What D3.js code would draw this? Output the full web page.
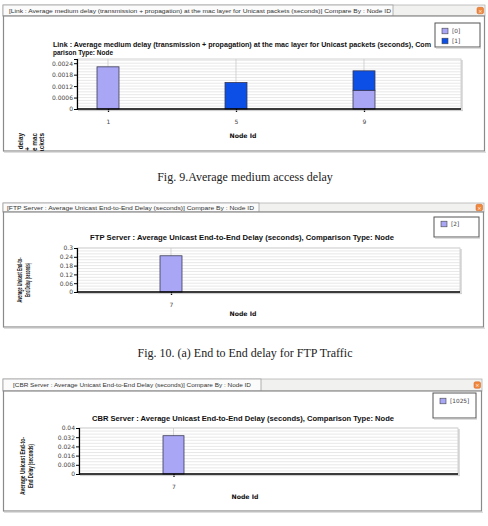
<!DOCTYPE html>
<html><head><meta charset="utf-8">
<script src="https://cdn.jsdelivr.net/npm/d3@7"></script>
<style>
html,body{margin:0;padding:0;background:#fff;}
svg{display:block;}
</style></head>
<body>
<svg id="c" width="488" height="526"></svg>
<script>
// ---------- DATA ----------
// Fig. 9 : average medium delay at MAC layer
const macNodes = ["1", "5", "9"];
const macSeries = ["[0]", "[1]"];
const macDelay0 = [0.00221, 0, 0.00098];
const macDelay1 = [0, 0.00139, 0.00102];
const macTicks = [0, 0.0006, 0.0012, 0.0018, 0.0024];
// Fig. 10 (a) : FTP end-to-end delay
const ftpNodes = ["7"];
const ftpSeries = ["[2]"];
const ftpDelay = [0.247];
const ftpTicks = [0, 0.06, 0.12, 0.18, 0.24, 0.3];
// Fig. 10 (b) : CBR end-to-end delay
const cbrNodes = ["7"];
const cbrSeries = ["[1025]"];
const cbrDelay = [0.0333];
const cbrTicks = [0, 0.008, 0.016, 0.024, 0.032, 0.04];

const captions = ["Fig. 9.Average medium access delay", "Fig. 10. (a) End to End delay for FTP Traffic"];

const seriesColors = ["#a9a6f6", "#0b4fe6"];
const UI = "'DejaVu Sans', Verdana, sans-serif";
const UIN = "'Liberation Sans', Arial, sans-serif";

const svg = d3.select("#c");
const defs = svg.append("defs");

function fmt(v) { return String(+v.toFixed(6)); }

function drawPanel(cfg, idx) {
  const f = cfg.frame;
  const g = svg.append("g");
  defs.append("clipPath").attr("id", "clip" + idx)
    .append("rect").attr("x", f.x0).attr("y", f.tabY1).attr("width", f.x1 - f.x0).attr("height", f.y1 - f.tabY1);

  // tab strip
  g.append("rect").attr("x", f.x0).attr("y", f.y0).attr("width", f.x1 - f.x0).attr("height", f.tabY1 - f.y0)
    .attr("fill", "#f1f1ef").attr("stroke", "#b5b5b5").attr("stroke-width", 0.8);
  g.append("rect").attr("x", f.x0).attr("y", f.y0).attr("width", cfg.tabEnd - f.x0).attr("height", f.tabY1 - f.y0)
    .attr("fill", "#fbfbfb").attr("stroke", "#a0a0a0").attr("stroke-width", 0.8);
  g.append("text").attr("x", cfg.tabTextX0).attr("y", (f.y0 + f.tabY1) / 2 + 2)
    .attr("font-family", UIN).attr("font-size", 6.2).attr("fill", "#333")
    .attr("textLength", cfg.tabTextX1 - cfg.tabTextX0).attr("lengthAdjust", "spacingAndGlyphs")
    .text(cfg.tabText);
  // close button
  g.append("rect").attr("x", f.x1 - 8).attr("y", (f.y0 + f.tabY1) / 2 - 3.2).attr("width", 6.5).attr("height", 6.5)
    .attr("rx", 1.5).attr("fill", "#f0893c").attr("stroke", "#d06020").attr("stroke-width", 0.5);
  g.append("text").attr("x", f.x1 - 4.75).attr("y", (f.y0 + f.tabY1) / 2 + 2)
    .attr("text-anchor", "middle").attr("font-family", UI).attr("font-size", 5).attr("fill", "#fff").text("×");

  // content box
  g.append("rect").attr("x", f.x0 + 0.5).attr("y", f.tabY1).attr("width", f.x1 - f.x0 - 1).attr("height", f.y1 - f.tabY1)
    .attr("fill", "#fff").attr("stroke", "#8a8a8a").attr("stroke-width", 1.2);
  g.append("line").attr("x1", f.x0 + 1).attr("x2", f.x1 + 1).attr("y1", f.y1 + 1.2).attr("y2", f.y1 + 1.2)
    .attr("stroke", "#d0d0d0").attr("stroke-width", 1);

  // chart title
  cfg.titleLines.forEach(t => {
    const tx = g.append("text").attr("x", t.x).attr("y", t.y)
      .attr("font-family", UIN).attr("font-size", 6.6).attr("font-weight", "bold").attr("fill", "#111")
      .text(t.text);
    if (t.len) tx.attr("textLength", t.len).attr("lengthAdjust", "spacingAndGlyphs");
  });

  const p = cfg.plot;
  const y = d3.scaleLinear().domain([0, cfg.yMax]).range([p.b, p.t]);
  const x = d3.scalePoint().domain(cfg.nodes).range(cfg.xRange);
  if (cfg.nodes.length === 1) x.range([cfg.xRange[0], cfg.xRange[0]]);

  // plot background & minor grid
  g.append("rect").attr("x", p.l).attr("y", p.t).attr("width", p.r - p.l).attr("height", p.b - p.t)
    .attr("fill", "#fff").attr("stroke", "#c8c8c8").attr("stroke-width", 0.8);
  const majorStep = cfg.ticks[1] - cfg.ticks[0];
  const minorStep = majorStep / cfg.minorPer;
  const minor = d3.range(0, cfg.yMax + 1e-12, minorStep).filter(v => v > 1e-12);
  g.append("g").selectAll("line").data(minor).join("line")
    .attr("x1", p.l).attr("x2", p.r).attr("y1", d => y(d)).attr("y2", d => y(d))
    .attr("stroke", "#d9d9d9").attr("stroke-width", 0.6);
  g.append("g").selectAll("line").data(cfg.nodes).join("line")
    .attr("x1", d => x(d)).attr("x2", d => x(d)).attr("y1", p.t).attr("y2", p.b)
    .attr("stroke", "#c4c4c4").attr("stroke-width", 0.7);
  g.append("line").attr("x1", p.r + 1).attr("x2", p.r + 1).attr("y1", p.t + 1).attr("y2", p.b + 1)
    .attr("stroke", "#bdbdbd").attr("stroke-width", 1);

  // bars (stacked)
  const table = cfg.nodes.map((n, i) => {
    const o = { node: n };
    cfg.series.forEach((s, j) => o[s] = cfg.values[j][i]);
    return o;
  });
  const stack = d3.stack().keys(cfg.series)(table);
  stack.forEach((layer, j) => {
    g.append("g").selectAll("rect").data(layer.filter(d => d[1] - d[0] > 0)).join("rect")
      .attr("x", d => x(d.data.node) - cfg.barW / 2).attr("width", cfg.barW)
      .attr("y", d => y(d[1])).attr("height", d => y(d[0]) - y(d[1]))
      .attr("fill", seriesColors[j]).attr("stroke", "#3a3a55").attr("stroke-width", 0.8);
  });

  // y axis
  const ya = d3.axisLeft(y).tickValues(cfg.ticks).tickFormat(fmt).tickSize(3).tickPadding(1);
  const yg = g.append("g").attr("transform", `translate(${p.l},0)`).call(ya);
  yg.select(".domain").attr("stroke", "#000").attr("stroke-width", 1.2);
  yg.selectAll(".tick line").attr("stroke", "#000");
  yg.selectAll(".tick text").attr("font-family", UI).attr("font-size", 6).attr("fill", "#444");
  // x axis
  const xa = d3.axisBottom(x).tickSize(3).tickSizeOuter(0).tickPadding(8);
  const xg = g.append("g").attr("transform", `translate(0,${p.b})`).call(xa);
  xg.select(".domain").attr("d", `M${p.l},0H${p.r}`).attr("stroke", "#000").attr("stroke-width", 1.6);
  xg.selectAll(".tick line").attr("stroke", "#000").attr("stroke-width", 1.3);
  xg.selectAll(".tick text").attr("font-family", UI).attr("font-size", 6).attr("fill", "#444");
  g.append("line").attr("x1", p.l + 1).attr("x2", p.r + 2).attr("y1", p.b + 1.6).attr("y2", p.b + 1.6)
    .attr("stroke", "#bbb").attr("stroke-width", 0.8);

  // x title
  g.append("text").attr("x", cfg.xTitle.x).attr("y", cfg.xTitle.y).attr("text-anchor", "middle")
    .attr("font-family", UI).attr("font-size", 6.2).attr("font-weight", "bold").attr("fill", "#111").text("Node Id");

  // y title (rotated, clipped)
  const yt = g.append("g").attr("clip-path", `url(#clip${idx})`);
  cfg.yTitle.forEach(t => {
    const tx = yt.append("text").attr("transform", `translate(${t.x},${t.y}) rotate(-90)`)
      .attr("text-anchor", t.anchor || "middle")
      .attr("font-family", UIN).attr("font-size", cfg.yTitleSize).attr("font-weight", "bold").attr("fill", "#111")
      .text(t.text);
    if (t.len) tx.attr("textLength", t.len).attr("lengthAdjust", "spacingAndGlyphs");
  });

  // legend
  const L = cfg.legend;
  g.append("rect").attr("x", L.x).attr("y", L.y).attr("width", L.w).attr("height", L.h)
    .attr("fill", "#fff").attr("stroke", "#555").attr("stroke-width", 1);
  g.append("line").attr("x1", L.x + 1).attr("x2", L.x + L.w + 1).attr("y1", L.y + L.h + 1).attr("y2", L.y + L.h + 1)
    .attr("stroke", "#bbb");
  const li = g.append("g").selectAll("g").data(cfg.series).join("g")
    .attr("transform", (d, i) => `translate(${L.x + 7},${L.itemY + i * L.itemGap})`);
  li.append("rect").attr("x", 0).attr("y", -2.8).attr("width", 6).attr("height", 5.6)
    .attr("fill", (d, i) => seriesColors[i]).attr("stroke", "#444").attr("stroke-width", 0.6);
  li.append("text").attr("x", 10).attr("y", 2.2).attr("font-family", UI).attr("font-size", 5.8).attr("fill", "#444")
    .text(d => d);
}

const panels = [
  {
    frame: { x0: 3, x1: 485, y0: 5, tabY1: 16, y1: 151 }, tabEnd: 393, tabTextX0: 9, tabTextX1: 391,
    tabText: "[Link :  Average medium delay (transmission + propagation) at the mac layer for Unicast packets (seconds)] Compare By : Node ID",
    titleLines: [
      { x: 53, y: 46.5, len: 378, text: "Link :  Average medium delay (transmission + propagation) at the mac layer for Unicast packets (seconds), Com" },
      { x: 53, y: 54.5, len: 60, text: "parison Type: Node" }],
    plot: { l: 77, r: 461, t: 59, b: 109 }, yMax: 0.00262, ticks: macTicks, minorPer: 4,
    nodes: macNodes, series: macSeries, values: [macDelay0, macDelay1], xRange: [108, 364], barW: 22,
    xTitle: { x: 243, y: 138 }, yTitleSize: 6.4,
    yTitle: [
      { x: 23, y: 133, anchor: "end", text: "Average medium delay" },
      { x: 30, y: 147, anchor: "end", text: "(transmission +" },
      { x: 37, y: 133, anchor: "end", text: "propagation) at the mac" },
      { x: 44, y: 133, anchor: "end", text: "layer for Unicast packets" }],
    legend: { x: 435, y: 23, w: 45, h: 24, itemY: 31, itemGap: 10 }
  },
  {
    frame: { x0: 3, x1: 484, y0: 203, tabY1: 212, y1: 327 }, tabEnd: 259, tabTextX0: 7, tabTextX1: 254,
    tabText: "[FTP Server :  Average Unicast End-to-End Delay (seconds)] Compare By : Node ID",
    titleLines: [{ x: 90, y: 240.3, len: 304, text: "FTP Server :  Average Unicast End-to-End Delay (seconds), Comparison Type: Node" }],
    plot: { l: 77, r: 460, t: 248, b: 292 }, yMax: 0.3, ticks: ftpTicks, minorPer: 3,
    nodes: ftpNodes, series: ftpSeries, values: [ftpDelay], xRange: [171, 171], barW: 22,
    xTitle: { x: 243, y: 316 }, yTitleSize: 7,
    yTitle: [
      { x: 22, y: 280, len: 45, text: "Average Unicast End-to-" },
      { x: 30, y: 280, len: 34, text: "End Delay (seconds)" }],
    legend: { x: 434, y: 217, w: 45, h: 20, itemY: 224, itemGap: 10 }
  },
  {
    frame: { x0: 3, x1: 482, y0: 379, tabY1: 391, y1: 511 }, tabEnd: 261, tabTextX0: 13, tabTextX1: 251,
    tabText: "[CBR Server :  Average Unicast End-to-End Delay (seconds)] Compare By : Node ID",
    titleLines: [{ x: 92, y: 421.3, len: 302, text: "CBR Server :  Average Unicast End-to-End Delay (seconds), Comparison Type: Node" }],
    plot: { l: 79, r: 458, t: 428, b: 474 }, yMax: 0.04, ticks: cbrTicks, minorPer: 3,
    nodes: cbrNodes, series: cbrSeries, values: [cbrDelay], xRange: [173.5, 173.5], barW: 21,
    xTitle: { x: 245, y: 499 }, yTitleSize: 7.4,
    yTitle: [
      { x: 25, y: 466, len: 58, text: "Average Unicast End-to-" },
      { x: 33, y: 466, len: 44, text: "End Delay (seconds)" }],
    legend: { x: 433, y: 393, w: 43, h: 25, itemY: 401, itemGap: 10 }
  }
];

panels.forEach((p, i) => drawPanel(p, i));

// captions
svg.selectAll("text.cap").data(captions).join("text").attr("class", "cap")
  .attr("x", 245).attr("y", (d, i) => [181, 357][i]).attr("text-anchor", "middle")
  .attr("font-family", "'Liberation Serif', 'Times New Roman', serif").attr("font-size", 12).attr("fill", "#222")
  .text(d => d);
</script>
</body></html>
